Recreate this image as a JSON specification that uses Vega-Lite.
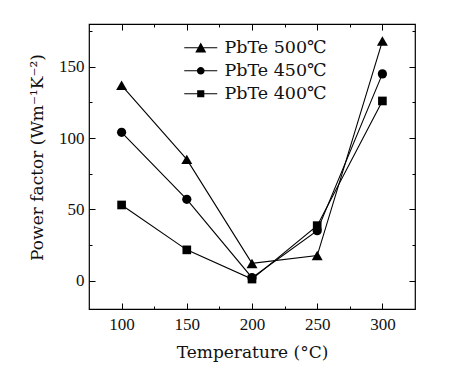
{
  "$schema": "https://vega.github.io/schema/vega-lite/v6.json",
  "width": 326,
  "height": 285,
  "autosize": "none",
  "padding": {"left": 89, "top": 24, "right": 49, "bottom": 64},
  "background": "white",
  "config": {
    "font": "DejaVu Serif",
    "view": {"stroke": "black", "strokeWidth": 1.2},
    "axis": {
      "domain": false,
      "grid": false,
      "tickColor": "black",
      "tickWidth": 1,
      "labelColor": "#111",
      "labelFont": "Liberation Serif",
      "labelFontSize": 17,
      "titleFont": "DejaVu Serif",
      "titleFontSize": 17,
      "titleFontWeight": "normal",
      "titleColor": "#111"
    }
  },
  "data": {
    "values": [
      {"s": "PbTe 500℃", "T": 100, "PF": 137},
      {"s": "PbTe 500℃", "T": 150, "PF": 85},
      {"s": "PbTe 500℃", "T": 200, "PF": 12},
      {"s": "PbTe 500℃", "T": 250, "PF": 17.5},
      {"s": "PbTe 500℃", "T": 300, "PF": 168},
      {"s": "PbTe 450℃", "T": 100, "PF": 104},
      {"s": "PbTe 450℃", "T": 150, "PF": 57},
      {"s": "PbTe 450℃", "T": 200, "PF": 2},
      {"s": "PbTe 450℃", "T": 250, "PF": 35},
      {"s": "PbTe 450℃", "T": 300, "PF": 145},
      {"s": "PbTe 400℃", "T": 100, "PF": 53},
      {"s": "PbTe 400℃", "T": 150, "PF": 21.5},
      {"s": "PbTe 400℃", "T": 200, "PF": 1},
      {"s": "PbTe 400℃", "T": 250, "PF": 38.5},
      {"s": "PbTe 400℃", "T": 300, "PF": 126}
    ]
  },
  "layer": [
    {
      "mark": {"type": "line", "color": "black", "strokeWidth": 1.1},
      "encoding": {
        "x": {
          "field": "T", "type": "quantitative",
          "scale": {"domain": [75, 325], "nice": false},
          "axis": {
            "orient": "bottom",
            "title": "Temperature (°C)",
            "values": [100, 125, 150, 175, 200, 225, 250, 275, 300],
            "labelExpr": "datum.value % 50 === 0 ? datum.label : ''",
            "tickSize": {"condition": {"test": "datum.value % 50 === 0", "value": -6}, "value": -3},
            "labelPadding": 13,
            "titlePadding": 12
          }
        },
        "y": {
          "field": "PF", "type": "quantitative",
          "scale": {"domain": [-20, 180], "nice": false},
          "axis": {
            "orient": "left",
            "title": "Power factor (Wm⁻¹K⁻²)",
            "values": [0, 25, 50, 75, 100, 125, 150, 175],
            "labelExpr": "datum.value % 50 === 0 ? datum.label : ''",
            "tickSize": {"condition": {"test": "datum.value % 50 === 0", "value": -6}, "value": -3},
            "labelPadding": 11,
            "titlePadding": 12,
            "titleY": 133
          }
        },
        "detail": {"field": "s", "type": "nominal"}
      }
    },
    {
      "transform": [{"filter": "datum.s === 'PbTe 500℃'"}],
      "mark": {"type": "point", "filled": true, "color": "black", "opacity": 1, "shape": "triangle-up", "size": 120},
      "encoding": {
        "x": {
          "field": "T", "type": "quantitative",
          "axis": {
            "orient": "top", "title": null, "labels": false,
            "values": [100, 125, 150, 175, 200, 225, 250, 275, 300],
            "tickSize": {"condition": {"test": "datum.value % 50 === 0", "value": -6}, "value": -3}
          }
        },
        "y": {
          "field": "PF", "type": "quantitative",
          "axis": {
            "orient": "right", "title": null, "labels": false,
            "values": [0, 25, 50, 75, 100, 125, 150, 175],
            "tickSize": {"condition": {"test": "datum.value % 50 === 0", "value": -6}, "value": -3}
          }
        }
      }
    },
    {
      "transform": [{"filter": "datum.s === 'PbTe 450℃'"}],
      "mark": {"type": "point", "filled": true, "color": "black", "opacity": 1, "shape": "circle", "size": 85},
      "encoding": {
        "x": {"field": "T", "type": "quantitative", "axis": null},
        "y": {"field": "PF", "type": "quantitative", "axis": null}
      }
    },
    {
      "transform": [{"filter": "datum.s === 'PbTe 400℃'"}],
      "mark": {"type": "point", "filled": true, "color": "black", "opacity": 1, "shape": "square", "size": 75},
      "encoding": {
        "x": {"field": "T", "type": "quantitative", "axis": null},
        "y": {"field": "PF", "type": "quantitative", "axis": null}
      }
    },
    {
      "transform": [{"filter": "datum.T < 0"}],
      "mark": {"type": "point", "filled": true, "color": "black", "size": 121},
      "encoding": {
        "x": {"field": "T", "type": "quantitative", "axis": null},
        "y": {"field": "PF", "type": "quantitative", "axis": null},
        "shape": {
          "field": "s", "type": "nominal",
          "scale": {
            "domain": ["PbTe 500℃", "PbTe 450℃", "PbTe 400℃"],
            "range": [
              "M-3,-0.1H3V0.1H-3ZM0,-0.95L1,0.85L-1,0.85Z",
              "M-3,-0.1H3V0.1H-3ZM0.7,0A0.7,0.7,0,1,1,-0.7,0A0.7,0.7,0,1,1,0.7,0Z",
              "M-3,-0.1H3V0.1H-3ZM-0.65,-0.65H0.65V0.65H-0.65Z"
            ]
          },
          "legend": {
            "title": null,
            "orient": "none",
            "legendX": 103,
            "legendY": 15,
            "padding": 0,
            "labelFont": "DejaVu Serif",
            "labelFontSize": 17.5,
            "labelColor": "#111",
            "labelOffset": 15,
            "rowPadding": 4,
            "symbolSize": 121,
            "symbolFillColor": "black",
            "symbolOpacity": 1,
            "encode": {
              "symbols": {
                "update": {
                  "fill": {"value": "black"},
                  "opacity": {"value": 1}
                }
              }
            }
          }
        }
      }
    }
  ],
  "resolve": {"axis": {"x": "independent", "y": "independent"}}
}
